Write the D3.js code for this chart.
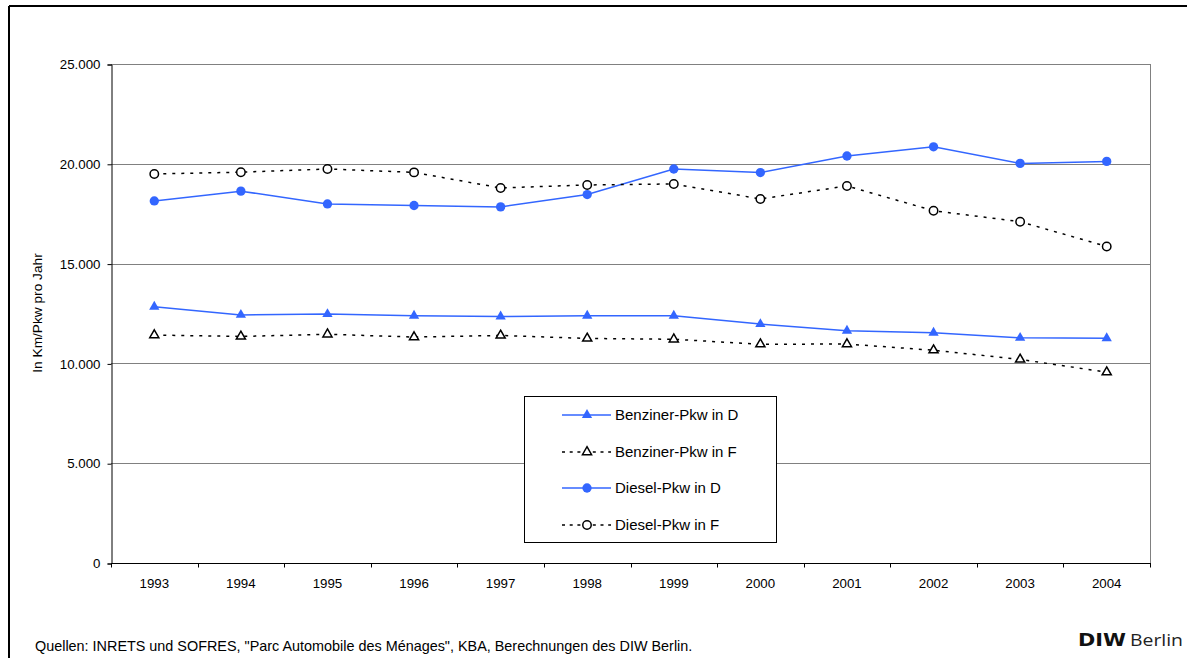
<!DOCTYPE html>
<html>
<head>
<meta charset="utf-8">
<script src="https://cdn.jsdelivr.net/npm/d3@7"></script>
<style>
  body { margin: 0; background: #fff; }
  svg { display: block; font-family: "Liberation Sans", Arial, sans-serif; }
</style>
</head>
<body>
<div id="chart"></div>
<script>
// Daten
var years = ["1993", "1994", "1995", "1996", "1997", "1998", "1999", "2000", "2001", "2002", "2003", "2004"];
var benzinD = [12840, 12430, 12470, 12390, 12350, 12390, 12390, 11970, 11640, 11540, 11280, 11260];
var benzinF = [11420, 11350, 11460, 11320, 11400, 11250, 11210, 10960, 10970, 10660, 10200, 9560];
var dieselD = [18140, 18630, 17990, 17910, 17840, 18460, 19740, 19560, 20390, 20850, 20020, 20120];
var dieselF = [19490, 19580, 19740, 19570, 18790, 18940, 18990, 18240, 18890, 17650, 17100, 15860];
var yTicks = [0, 5000, 10000, 15000, 20000, 25000];

var width = 1187;
var height = 658;
var blue = "#3366ff";

var series = [
  { name: "Benziner-Pkw in D", values: benzinD, color: blue, dash: null, symbol: d3.symbolTriangle, filled: true, size: 46 },
  { name: "Benziner-Pkw in F", values: benzinF, color: "#000", dash: "3,6", symbol: d3.symbolTriangle, filled: false, size: 36 },
  { name: "Diesel-Pkw in D", values: dieselD, color: blue, dash: null, symbol: d3.symbolCircle, filled: true, size: 68 },
  { name: "Diesel-Pkw in F", values: dieselF, color: "#000", dash: "3,6", symbol: d3.symbolCircle, filled: false, size: 56 }
];

var svg = d3
  .select("#chart")
  .append("svg")
  .attr("width", width)
  .attr("height", height);

// Rahmen (oben und links)
svg.append("line").attr("x1", 9).attr("x2", width).attr("y1", 6).attr("y2", 6).attr("stroke", "#000").attr("stroke-width", 2);
svg.append("line").attr("x1", 9).attr("x2", 9).attr("y1", 6).attr("y2", height).attr("stroke", "#000").attr("stroke-width", 2);

var plot = { left: 111, right: 1150, top: 64, bottom: 563 };

var x = d3.scaleBand().domain(years).range([plot.left, plot.right]);
var y = d3.scaleLinear().domain([0, 25000]).range([plot.bottom, plot.top]);
var xc = function (d) { return x(d) + x.bandwidth() / 2; };

var de = d3.formatLocale({ decimal: ",", thousands: ".", grouping: [3], currency: ["", " €"] });
var fmt = de.format(",d");

// Gitterlinien
svg
  .append("g")
  .selectAll("line")
  .data(yTicks.slice(1))
  .enter()
  .append("line")
  .attr("x1", plot.left)
  .attr("x2", plot.right)
  .attr("y1", function (d) { return Math.round(y(d)) + 0.5; })
  .attr("y2", function (d) { return Math.round(y(d)) + 0.5; })
  .attr("stroke", "#808080")
  .attr("stroke-width", 1);

// rechte Begrenzung
svg.append("line")
  .attr("x1", plot.right + 0.5).attr("x2", plot.right + 0.5)
  .attr("y1", plot.top).attr("y2", plot.bottom)
  .attr("stroke", "#808080");

// y-Achse
var yAxis = svg
  .append("g")
  .attr("transform", "translate(" + (plot.left + 0.5) + ",0.5)")
  .call(d3.axisLeft(y).tickValues(yTicks).tickFormat(fmt).tickSize(4).tickPadding(7));
yAxis.select(".domain").attr("stroke", "#000");
yAxis.selectAll("text").style("font-size", "13.3px").attr("fill", "#000").style("font-family", "Liberation Sans, Arial");

// x-Achse
var xAxis = svg
  .append("g")
  .attr("transform", "translate(0," + (plot.bottom + 0.5) + ")");
xAxis.append("line").attr("x1", plot.left).attr("x2", plot.right + 1).attr("stroke", "#000");
xAxis
  .selectAll("line.tick")
  .data(years.map(function (d) { return x(d); }).concat([plot.right]))
  .enter()
  .append("line")
  .attr("class", "tick")
  .attr("x1", function (d) { return Math.round(d) + 0.5; })
  .attr("x2", function (d) { return Math.round(d) + 0.5; })
  .attr("y1", 0)
  .attr("y2", 4)
  .attr("stroke", "#000");
xAxis
  .selectAll("text")
  .data(years)
  .enter()
  .append("text")
  .attr("x", xc)
  .attr("y", 24)
  .attr("text-anchor", "middle")
  .style("font-size", "13.3px")
  .text(function (d) { return d; });

// Achsentitel
svg.append("text")
  .attr("transform", "translate(42,313) rotate(-90)")
  .attr("text-anchor", "middle")
  .style("font-size", "13.7px")
  .text("In Km/Pkw pro Jahr");

// Linien
var line = d3.line()
  .x(function (d, i) { return xc(years[i]); })
  .y(function (d) { return y(d); });

function marker(sel, s) {
  sel
    .attr("d", d3.symbol().type(s.symbol).size(s.size)())
    .attr("fill", s.filled ? s.color : "#fff")
    .attr("stroke", s.filled ? "none" : "#000")
    .attr("stroke-width", 1.5);
}

series.forEach(function (s) {
  var g = svg.append("g");
  g.append("path")
    .datum(s.values)
    .attr("fill", "none")
    .attr("stroke", s.color)
    .attr("stroke-width", 1.5)
    .attr("stroke-dasharray", s.dash)
    .attr("d", line);
  g.selectAll("path.m")
    .data(s.values)
    .enter()
    .append("path")
    .attr("class", "m")
    .attr("transform", function (d, i) { return "translate(" + xc(years[i]) + "," + y(d) + ")"; })
    .call(marker, s);
});

// Legende
var legend = svg.append("g");
legend.append("rect")
  .attr("x", 524.5).attr("y", 396.5)
  .attr("width", 252).attr("height", 146)
  .attr("fill", "#fff")
  .attr("stroke", "#000");
var legendY = [415, 452, 488, 525];
series.forEach(function (s, i) {
  var row = legend.append("g").attr("transform", "translate(0," + legendY[i] + ")");
  row.append("line")
    .attr("x1", 562).attr("x2", 611)
    .attr("stroke", s.color)
    .attr("stroke-width", 1.5)
    .attr("stroke-dasharray", s.dash ? "3,4.7" : null);
  row.append("path")
    .attr("transform", "translate(587,0)")
    .call(marker, s);
  row.append("text")
    .attr("x", 615)
    .attr("y", 5)
    .style("font-size", "15px")
    .text(s.name);
});

// Quelle
svg.append("text")
  .attr("x", 35)
  .attr("y", 651)
  .style("font-size", "14.4px")
  .text("Quellen: INRETS und SOFRES, \"Parc Automobile des Ménages\", KBA, Berechnungen des DIW Berlin.");

// Logo
svg.append("text")
  .attr("x", 1078).attr("y", 646)
  .attr("textLength", 48).attr("lengthAdjust", "spacingAndGlyphs")
  .style("font-family", "'DejaVu Sans', sans-serif")
  .style("font-weight", "bold")
  .style("font-size", "17px")
  .attr("fill", "#111")
  .text("DIW");
svg.append("text")
  .attr("x", 1130).attr("y", 646)
  .attr("textLength", 53).attr("lengthAdjust", "spacingAndGlyphs")
  .style("font-family", "'Open Sans', sans-serif")
  .style("font-size", "17px")
  .attr("fill", "#222")
  .text("Berlin");
</script>
</body>
</html>
